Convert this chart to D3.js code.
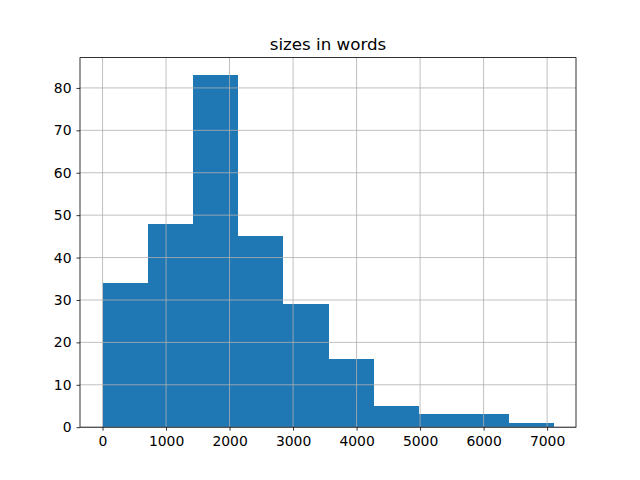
<!DOCTYPE html>
<html>
<head>
<meta charset="utf-8">
<script src="https://cdn.jsdelivr.net/npm/d3@7"></script>
<style>
  body { margin: 0; background: #fff; }
  text { font-family: "DejaVu Sans", sans-serif; fill: #000; }
</style>
</head>
<body>
<div id="chart"></div>
<script>
// bin edges and counts
var binEdges = [0, 710, 1420, 2130, 2840, 3550, 4260, 4970, 5680, 6390, 7100];
var counts = [34, 48, 83, 45, 29, 16, 5, 3, 3, 1];
var xTicks = [0, 1000, 2000, 3000, 4000, 5000, 6000, 7000];
var yTicks = [0, 10, 20, 30, 40, 50, 60, 70, 80];
var title = "sizes in words";

var width = 640, height = 480;
var margin = {left: 80, right: 64, top: 57.6, bottom: 52.8};

var svg = d3.select("#chart").append("svg")
    .attr("width", width).attr("height", height);

var bins = counts.map(function(c, i) {
  return {x0: binEdges[i], x1: binEdges[i + 1], count: c};
});

// matplotlib style 5% margin on x
var lo = binEdges[0], hi = binEdges[binEdges.length - 1];
var pad = (hi - lo) * 0.05;
var x = d3.scaleLinear()
    .domain([lo - pad, hi + pad])
    .range([margin.left, width - margin.right]);

var y = d3.scaleLinear()
    .domain([0, d3.max(counts) * 1.05])
    .range([height - margin.bottom, margin.top]);

// bars
svg.append("g")
    .attr("shape-rendering", "crispEdges")
  .selectAll("rect")
  .data(bins)
  .enter().append("rect")
    .attr("x", function(d) { return x(d.x0); })
    .attr("width", function(d) { return x(d.x1) - x(d.x0) + 0.5; })
    .attr("y", function(d) { return y(d.count); })
    .attr("height", function(d) { return y(0) - y(d.count); })
    .attr("fill", "#1f77b4");

// grid on top of the bars
var grid = svg.append("g").attr("stroke", "#b0b0b0").attr("stroke-width", 0.8);
grid.selectAll(".gx").data(xTicks).enter().append("line")
    .attr("x1", function(d) { return x(d); }).attr("x2", function(d) { return x(d); })
    .attr("y1", margin.top).attr("y2", height - margin.bottom);
grid.selectAll(".gy").data(yTicks).enter().append("line")
    .attr("y1", function(d) { return y(d); }).attr("y2", function(d) { return y(d); })
    .attr("x1", margin.left).attr("x2", width - margin.right);

// axes
var xAxis = svg.append("g")
    .attr("transform", "translate(0," + (height - margin.bottom) + ")")
    .call(d3.axisBottom(x).tickValues(xTicks).tickSize(3.5).tickPadding(5).tickFormat(d3.format("d")));
var yAxis = svg.append("g")
    .attr("transform", "translate(" + margin.left + ",0)")
    .call(d3.axisLeft(y).tickValues(yTicks).tickSize(3.5).tickPadding(5).tickFormat(d3.format("d")));

[xAxis, yAxis].forEach(function(a) {
  a.select(".domain").remove();
  a.selectAll("line").attr("stroke", "#000").attr("stroke-width", 0.8);
  a.selectAll("text").style("font-size", "13.9px").style("font-family", "DejaVu Sans, sans-serif");
});

// frame
svg.append("rect")
    .attr("x", margin.left).attr("y", margin.top)
    .attr("width", width - margin.left - margin.right)
    .attr("height", height - margin.top - margin.bottom)
    .attr("fill", "none").attr("stroke", "#000").attr("stroke-width", 0.8);

svg.append("text")
    .attr("x", (margin.left + width - margin.right) / 2)
    .attr("y", margin.top - 8)
    .attr("text-anchor", "middle")
    .style("font-size", "16.7px")
    .text(title);
</script>
</body>
</html>
